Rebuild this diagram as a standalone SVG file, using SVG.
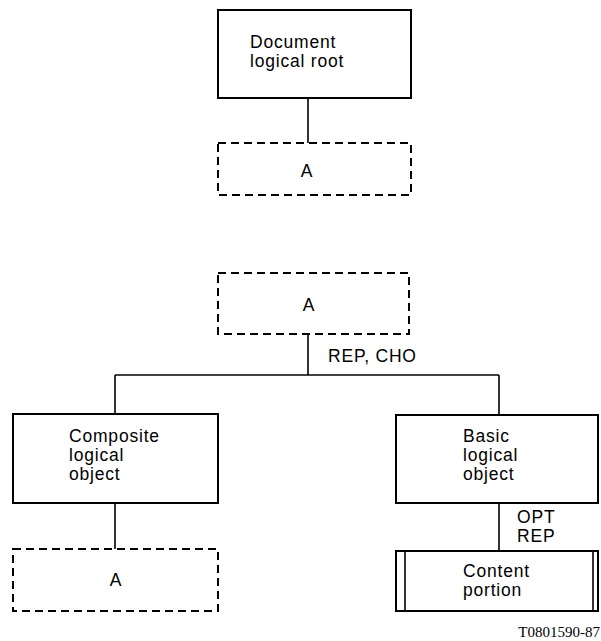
<svg xmlns="http://www.w3.org/2000/svg" width="601" height="641" viewBox="0 0 601 641">
<style>
.box{fill:#fff;stroke:#000;stroke-width:2}
.dash{fill:#fff;stroke:#000;stroke-width:2;stroke-dasharray:8,5}
.ln{stroke:#000;stroke-width:1.6;fill:none}
text{font-family:"Liberation Sans",Arial,sans-serif;font-size:17.5px;letter-spacing:0.8px;fill:#000}
.cap{font-family:"Liberation Serif","Times New Roman",serif;font-size:15px;letter-spacing:0}
</style>
<rect width="601" height="641" fill="#fff"/>
<g id="connectors">
<line class="ln" x1="308" y1="98" x2="308" y2="143"/>
<line class="ln" x1="308" y1="334" x2="308" y2="375"/>
<line class="ln" x1="115" y1="375" x2="499" y2="375"/>
<line class="ln" x1="115" y1="375" x2="115" y2="414"/>
<line class="ln" x1="499" y1="375" x2="499" y2="415"/>
<line class="ln" x1="115" y1="503" x2="115" y2="549"/>
<line class="ln" x1="499" y1="503" x2="499" y2="551"/>
<text x="328" y="362">REP, CHO</text>
<text x="517" y="523">OPT</text>
<text x="517" y="542">REP</text>
</g>
<g id="root">
<rect class="box" x="218" y="10" width="193" height="88"/>
<text x="250" y="48">Document</text>
<text x="250" y="67">logical root</text>
</g>
<g id="a1">
<rect class="dash" x="218" y="143" width="193" height="52"/>
<text x="307" y="177" text-anchor="middle">A</text>
</g>
<g id="a2">
<rect class="dash" x="218" y="273" width="191" height="61"/>
<text x="309" y="311" text-anchor="middle">A</text>
</g>
<g id="composite">
<rect class="box" x="13" y="414" width="205" height="89"/>
<text x="69" y="442">Composite</text>
<text x="69" y="461">logical</text>
<text x="69" y="480">object</text>
</g>
<g id="a3">
<rect class="dash" x="13" y="549" width="205" height="62"/>
<text x="116" y="586" text-anchor="middle">A</text>
</g>
<g id="basic">
<rect class="box" x="396" y="415" width="202" height="88"/>
<text x="463" y="442">Basic</text>
<text x="463" y="461">logical</text>
<text x="463" y="480">object</text>
</g>
<g id="content">
<rect class="box" x="396" y="551" width="202" height="60"/>
<line class="ln" x1="405" y1="551" x2="405" y2="611"/>
<line class="ln" x1="593" y1="551" x2="593" y2="611"/>
<text x="463" y="577">Content</text>
<text x="463" y="596">portion</text>
</g>
<text class="cap" x="600" y="637" text-anchor="end">T0801590-87</text>
</svg>
